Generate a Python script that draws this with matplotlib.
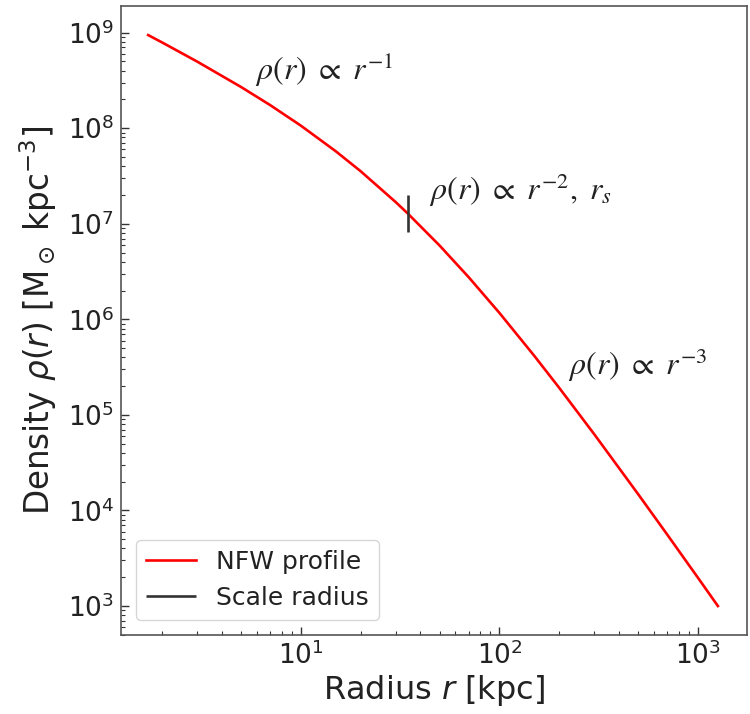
import matplotlib
matplotlib.use("Agg")
import matplotlib.pyplot as plt
from matplotlib.ticker import NullFormatter, FixedLocator, LogFormatterSciNotation

# Data (NFW density profile)
radius_kpc = [1.7, 2, 3, 5, 7, 10, 15, 20, 30, 34.6, 50, 70, 100, 150, 200,
              300, 500, 700, 1000, 1260]
density = [9.43e8, 7.886e8, 4.98e8, 2.694e8, 1.744e8, 1.062e8, 5.724e7,
           3.543e7, 1.687e7, 1.275e7, 5.903e6, 2.758e6, 1.166e6, 4.133e5,
           1.919e5, 6.290e4, 1.478e4, 5.593e3, 1.974e3, 1.000e3]
scale_radius = 34.6
scale_marker_range = [8.2e6, 2.0e7]
x_major_ticks = [1e1, 1e2, 1e3]
y_major_ticks = [1e3, 1e4, 1e5, 1e6, 1e7, 1e8, 1e9]

annotations = [
    (r"$\rho(r)\ \propto\ r^{-1}$", 5.9, 4.1e8),
    (r"$\rho(r)\ \propto\ r^{-2},\ r_s$", 44.0, 2.26e7),
    (r"$\rho(r)\ \propto\ r^{-3}$", 221.0, 3.33e5),
]

plt.rcParams["mathtext.fontset"] = "stix"

fig = plt.figure(figsize=(7.5, 7.14), dpi=100)
ax = fig.add_axes([0.1613, 0.1106, 0.8347, 0.881])

ax.plot(radius_kpc, density, color="red", lw=1.9, label="NFW profile")
ax.vlines(scale_radius, scale_marker_range[0], scale_marker_range[1],
          color="#333333", lw=1.9, label="Scale radius")

ax.set_xscale("log")
ax.set_yscale("log")
ax.set_xlim(1.24, 1766)
ax.set_ylim(497, 1.9e9)
ax.xaxis.set_major_locator(FixedLocator(x_major_ticks))
ax.yaxis.set_major_locator(FixedLocator(y_major_ticks))
ax.xaxis.set_major_formatter(LogFormatterSciNotation())
ax.yaxis.set_major_formatter(LogFormatterSciNotation())
ax.xaxis.set_minor_formatter(NullFormatter())
ax.yaxis.set_minor_formatter(NullFormatter())

for txt, x, y in annotations:
    ax.text(x, y, txt, fontsize=23, ha="left", va="center", color="#222222")

ax.set_xlabel(r"Radius $r$ [kpc]", fontsize=23, color="#222222", labelpad=2)
ax.set_ylabel(r"Density $\rho(r)$ [M$_\odot$ kpc$^{-3}$]", fontsize=23.5,
              color="#222222", labelpad=6)
ax.xaxis.label.set_math_fontfamily("dejavusans")
ax.yaxis.label.set_math_fontfamily("dejavusans")

ax.tick_params(which="both", direction="in", top=False, right=False,
               labelsize=19, colors="#333333", labelcolor="#222222")
ax.tick_params(which="major", length=6, width=1, pad=5)
ax.tick_params(which="minor", length=3, width=0.8)
for lbl in ax.get_xticklabels() + ax.get_yticklabels():
    lbl.set_math_fontfamily("dejavusans")
for s in ax.spines.values():
    s.set_color("#555555")
    s.set_linewidth(1.2)

leg = ax.legend(loc="lower left", fontsize=18, frameon=True,
                borderaxespad=0.6, handlelength=2.0)
leg.get_frame().set_edgecolor("#cccccc")
for t in leg.get_texts():
    t.set_color("#222222")

fig.savefig("out.png", dpi=100)
